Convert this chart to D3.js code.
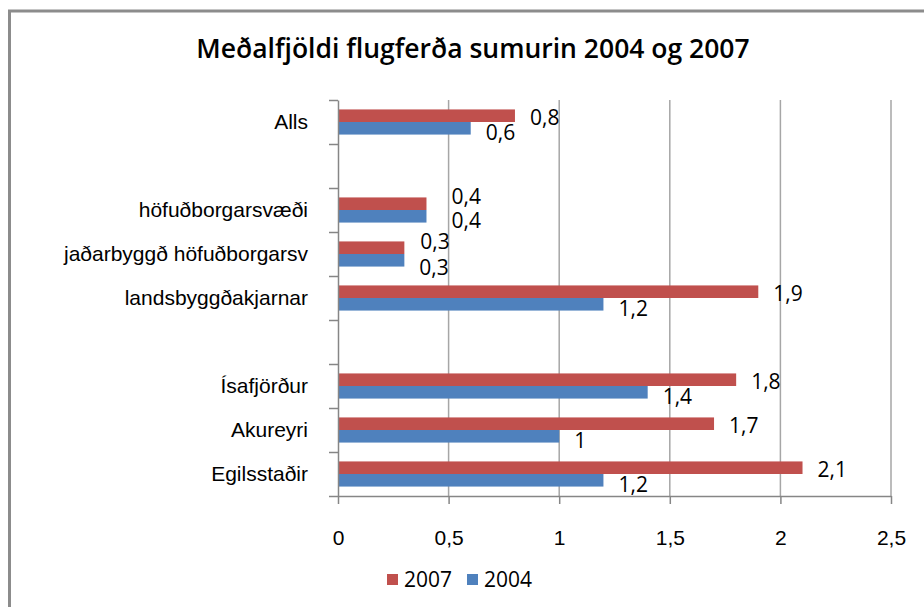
<!DOCTYPE html>
<html lang="is">
<head>
<meta charset="UTF-8">
<title>Meðalfjöldi flugferða sumurin 2004 og 2007</title>
<script src="https://d3js.org/d3.v7.min.js"></script>
<style>
  body { margin: 0; background: #fff; }
  svg { display: block; font-family: "Open Sans", "Noto Sans", sans-serif; }
  .axis path, .axis line { stroke: #868686; }
</style>
</head>
<body>
<div id="chart"></div>
<script>
// categories top to bottom, "" = empty slot
const categories = ["Alls", "", "höfuðborgarsvæði", "jaðarbyggð höfuðborgarsv", "landsbyggðakjarnar", "", "Ísafjörður", "Akureyri", "Egilsstaðir"];
const values2007 = [0.8, null, 0.4, 0.3, 1.9, null, 1.8, 1.7, 2.1];
const values2004 = [0.6, null, 0.4, 0.3, 1.2, null, 1.4, 1.0, 1.2];
const xTicks = [0, 0.5, 1, 1.5, 2, 2.5];
const series = [
  { name: "2007", values: values2007, color: "#C0504D" },
  { name: "2004", values: values2004, color: "#4F81BD" }
];

// hand-moved data labels in the original (pixel nudges, [dx, dy])
const labelNudge = {
  "2007": { 2: [10, -9], 3: [1, -8] },
  "2004": { 2: [10, 0], 3: [0, 3] }
};

const W = 924, H = 607;
const plot = { left: 338, right: 891, top: 100, bottom: 496 };
const fs = 21;
const fmt = d => String(d).replace(".", ",");

const svg = d3.select("#chart").append("svg")
  .attr("width", W).attr("height", H);

svg.append("rect").attr("width", W).attr("height", H).attr("fill", "#fff");

// outer chart border (cut off on right and bottom)
svg.append("rect")
  .attr("x", 9.5).attr("y", 11)
  .attr("width", 1000).attr("height", 700)
  .attr("fill", "none").attr("stroke", "#8c8c8c").attr("stroke-width", 3);

svg.append("text")
  .attr("x", 473).attr("y", 58)
  .attr("text-anchor", "middle")
  .attr("font-size", 26.5).attr("font-weight", 600)
  .text("Meðalfjöldi flugferða sumurin 2004 og 2007");

const x = d3.scaleLinear().domain([0, 2.5]).range([plot.left, plot.right]);
const y = d3.scaleBand().domain(d3.range(categories.length))
  .range([plot.top, plot.bottom]).paddingInner(0).paddingOuter(0);
// bar group: two bars, gap width 150%
const inner = d3.scaleBand().domain(series.map(s => s.name))
  .range([0, y.bandwidth()]).paddingInner(0).paddingOuter(0.75);

// gridlines
svg.append("g")
  .selectAll("line").data(xTicks.slice(1)).join("line")
  .attr("x1", d => x(d)).attr("x2", d => x(d))
  .attr("y1", plot.top).attr("y2", plot.bottom)
  .attr("stroke", "#a6a6a6").attr("stroke-width", 1.5);

// bars
series.forEach(s => {
  svg.append("g")
    .selectAll("rect")
    .data(s.values.map((v, i) => ({ v, i })).filter(d => d.v != null))
    .join("rect")
    .attr("x", x(0))
    .attr("y", d => y(d.i) + inner(s.name))
    .attr("width", d => x(d.v) - x(0))
    .attr("height", inner.bandwidth())
    .attr("fill", s.color);
});

// data labels
series.forEach((s, k) => {
  const nudge = i => labelNudge[s.name][i] || [0, 0];
  svg.append("g")
    .selectAll("text")
    .data(s.values.map((v, i) => ({ v, i })).filter(d => d.v != null))
    .join("text")
    .attr("x", d => x(d.v) + 15 + nudge(d.i)[0])
    .attr("y", d => y(d.i) + inner(s.name) + inner.bandwidth() / 2 + (k === 0 ? 2 : 4) + 0.36 * fs + nudge(d.i)[1])
    .attr("font-size", fs)
    .attr("fill", "#000")
    .text(d => fmt(d.v));
});

// x axis
const xAxis = svg.append("g").attr("class", "axis")
  .attr("transform", `translate(0,${plot.bottom})`)
  .call(d3.axisBottom(x).tickValues(xTicks).tickFormat(fmt).tickSize(8).tickSizeOuter(0).tickPadding(26));
xAxis.select(".domain").attr("stroke-width", 1.5);
xAxis.selectAll("line").attr("stroke-width", 1.5);
xAxis.selectAll("text").attr("font-size", fs).attr("fill", "#000").attr("font-family", null);

// y axis: ticks at category boundaries
const yb = d3.scaleLinear().domain([0, categories.length]).range([plot.top, plot.bottom]);
const yAxis = svg.append("g").attr("class", "axis")
  .attr("transform", `translate(${plot.left},0)`)
  .call(d3.axisLeft(yb).ticks(categories.length).tickFormat("").tickSize(9).tickSizeOuter(0));
yAxis.select(".domain").attr("stroke-width", 1.5);
yAxis.selectAll("line").attr("stroke-width", 1.5);

// category labels
const yLabels = svg.append("g").attr("class", "axis")
  .attr("transform", `translate(${plot.left},0)`)
  .call(d3.axisLeft(y).tickFormat(i => categories[i]).tickSize(0).tickPadding(30));
yLabels.select(".domain").remove();
yLabels.selectAll("text").attr("font-size", fs).attr("fill", "#000").attr("font-family", null);

// legend
const leg = svg.append("g").attr("transform", "translate(387,580)");
const item = leg.selectAll("g").data(series).join("g")
  .attr("transform", (d, i) => `translate(${i * 80},0)`);
item.append("rect").attr("x", 0).attr("y", -6).attr("width", 11).attr("height", 11)
  .attr("fill", d => d.color);
item.append("text").attr("x", 17).attr("y", 7).attr("font-size", fs).text(d => d.name);
</script>
</body>
</html>
